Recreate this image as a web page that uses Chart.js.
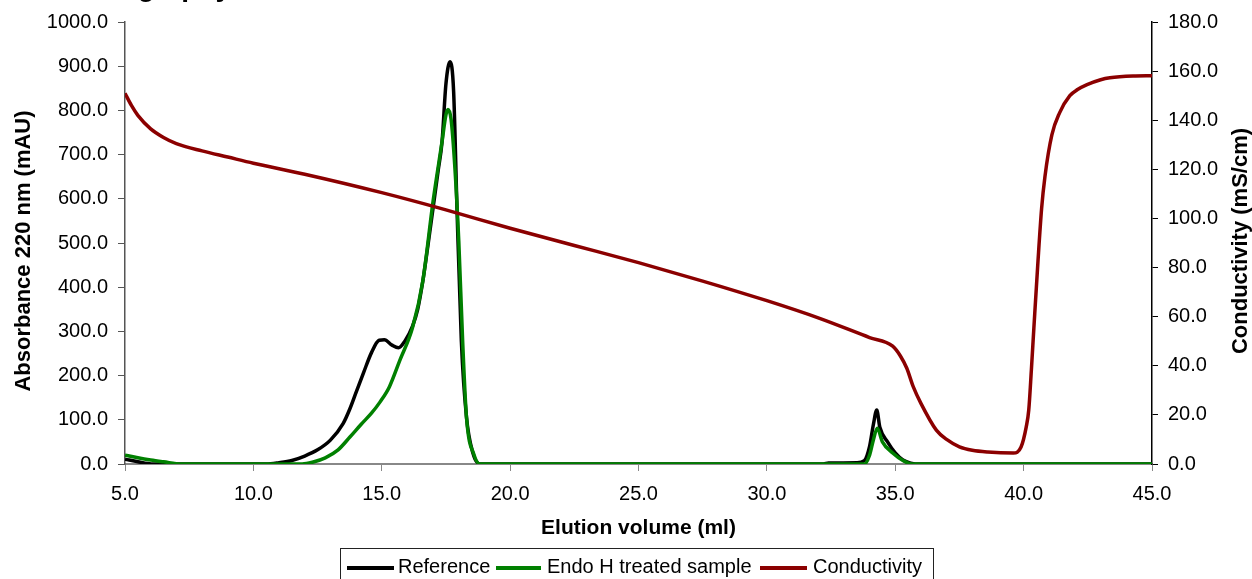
<!DOCTYPE html>
<html>
<head>
<meta charset="utf-8">
<script src="https://cdn.jsdelivr.net/npm/chart.js@4.4.1/dist/chart.umd.min.js"></script>
<style>
    body { margin: 0; background: #fff; font-family: Arial, "Liberation Sans", sans-serif; }
    #wrap { position: relative; width: 1252px; height: 579px; overflow: hidden; }
    #cut-title { position: absolute; left: 0; top: -27px; width: 231px; text-align: right;
        font: bold 28px Arial, "Liberation Sans", sans-serif; line-height: 28px; white-space: nowrap; color: #000; }
    #legend { position: absolute; left: 340px; top: 548px; width: 594px; height: 40px;
        border: 1px solid #222; box-sizing: border-box; font-size: 20px; color: #000; }
    #legend span.item { position: absolute; top: 6px; white-space: nowrap; }
    #legend span.line { position: absolute; top: 17px; height: 4px; }
</style>
</head>
<body>
<div id="wrap">
    <canvas id="chart" width="1252" height="579"></canvas>
    <div id="cut-title">Chromatography</div>
    <div id="legend"></div>
</div>
<script>
// Reference run (black), x = elution volume (ml), y = A220 (mAU)
const refX = [5.0, 5.5, 6.1, 8.0, 10.5, 11.0, 11.5, 12.0, 12.5, 13.0, 13.5, 13.76, 14.0, 14.3, 14.6, 14.9, 15.1, 15.4, 15.65, 15.9, 16.2, 16.4, 16.6, 16.8, 17.0, 17.2, 17.35, 17.5, 17.66, 17.8, 17.93, 18.1, 18.3, 18.55, 18.83, 20.0, 25.0, 30.0, 32.2, 32.4, 33.5, 33.8, 34.0, 34.15, 34.28, 34.4, 34.7, 35.0, 35.3, 35.6, 36.0, 45.0];
const refY = [11, 5, 0, 0, 0, 3, 8, 18, 32, 54, 92, 125, 162, 208, 252, 280, 281, 269, 263, 278, 312, 350, 414, 495, 580, 665, 730, 860, 910, 842, 579, 279, 106, 25, 0, 0, 0, 0, 0, 2, 3, 8, 40, 90, 122, 83, 50, 25, 9, 2, 0, 0];

// Endo H treated sample (green)
const endoX = [5.0, 5.5, 6.0, 6.5, 7.2, 10.0, 11.9, 12.3, 12.8, 13.3, 13.76, 14.2, 14.6, 14.93, 15.3, 15.7, 16.2, 16.6, 17.0, 17.35, 17.5, 17.58, 17.7, 17.85, 18.0, 18.15, 18.3, 18.6, 18.83, 20.0, 30.0, 33.8, 34.0, 34.15, 34.3, 34.5, 34.9, 35.3, 35.65, 45.0];
const endoY = [20, 14, 9, 5, 0, 0, 0, 4, 14, 32, 61, 90, 115, 140, 175, 234, 309, 414, 595, 730, 790, 802, 780, 669, 505, 279, 106, 20, 0, 0, 0, 0, 20, 55, 81, 50, 25, 8, 0, 0];

// Conductivity (mS/cm), right axis
const condX = [5.0, 5.25, 5.5, 6.0, 6.5, 7.0, 8.0, 9.0, 10.0, 12.0, 15.0, 17.5, 20.0, 22.5, 25.0, 27.5, 30.0, 32.0, 34.0, 34.9, 35.2, 35.45, 35.7, 36.0, 36.6, 37.0, 37.5, 38.0, 38.6, 39.6, 39.9, 40.1, 40.2, 40.3, 40.4, 40.56, 40.7, 40.83, 41.1, 41.4, 41.8, 42.1, 42.47, 43.0, 43.36, 44.26, 45.0];
const condY = [151, 146, 142, 136.5, 133, 130.5, 127.5, 125, 122.5, 118, 110.5, 103.5, 96, 89, 82, 74.5, 66.5, 59.5, 51.5, 48, 44, 39, 31.5, 24.7, 13.8, 10, 7, 5.6, 4.9, 4.5, 6.9, 15, 22, 38, 55.5, 82.7, 104, 117, 134, 143, 150, 152.5, 154.5, 156.5, 157.3, 158, 158.1];

const seriesNames = ['Reference', 'Endo H treated sample', 'Conductivity'];
const seriesColors = ['#000000', '#008000', '#8b0000'];
const leftTitle = 'Absorbance 220 nm (mAU)';
const rightTitle = 'Conductivity (mS/cm)';

function toPoints(xs, ys) {
    return xs.map((x, i) => ({ x: x, y: ys[i] }));
}

const FONT = 'Arial, "Liberation Sans", sans-serif';
const one = v => Number(v).toFixed(1);

function lineSet(i, xs, ys, axis, order) {
    return {
        label: seriesNames[i],
        data: toPoints(xs, ys),
        yAxisID: axis,
        borderColor: seriesColors[i],
        backgroundColor: seriesColors[i],
        borderWidth: 3.5,
        pointRadius: 0,
        cubicInterpolationMode: 'monotone',
        order: order
    };
}

// both vertical titles read bottom-to-top, so draw them here
const sideTitles = {
    id: 'sideTitles',
    afterDraw(chart) {
        const ctx = chart.ctx;
        const mid = (chart.chartArea.top + chart.chartArea.bottom) / 2;
        ctx.save();
        ctx.fillStyle = '#000';
        ctx.font = 'bold 22px ' + FONT;
        ctx.textAlign = 'center';
        ctx.textBaseline = 'middle';
        [[24, mid + 8, leftTitle], [1241, mid - 2, rightTitle]].forEach(([x, y, t]) => {
            ctx.save();
            ctx.translate(x, y);
            ctx.rotate(-Math.PI / 2);
            ctx.fillText(t, 0, 0);
            ctx.restore();
        });
        ctx.restore();
    }
};

new Chart(document.getElementById('chart').getContext('2d'), {
    type: 'line',
    data: {
        datasets: [
            lineSet(0, refX, refY, 'yL', 3),
            lineSet(1, endoX, endoY, 'yL', 2),
            lineSet(2, condX, condY, 'yR', 1)
        ]
    },
    options: {
        responsive: false,
        animation: false,
        layout: { padding: { top: 20, left: 0, right: 0, bottom: 0 } },
        plugins: {
            legend: { display: false },
            tooltip: { enabled: false }
        },
        scales: {
            x: {
                type: 'linear', min: 5, max: 45,
                ticks: { stepSize: 5, callback: one, color: '#000', font: { family: FONT, size: 20 }, padding: 11, maxRotation: 0 },
                grid: { drawOnChartArea: false, drawTicks: true, tickLength: 7, color: '#888' },
                border: { display: true, color: '#888', width: 2 },
                title: { display: true, text: 'Elution volume (ml)', color: '#000', font: { family: FONT, size: 21, weight: 'bold' }, padding: { top: 0, bottom: 38 } },
                afterFit: s => { s.height = 115; }
            },
            yL: {
                type: 'linear', position: 'left', min: 0, max: 1000,
                ticks: { stepSize: 100, callback: one, color: '#000', font: { family: FONT, size: 20 }, padding: 10 },
                grid: { drawOnChartArea: false, drawTicks: true, tickLength: 7, color: '#555' },
                border: { display: true, color: '#555', width: 1.5 },
                afterFit: s => { s.width = 125; }
            },
            yR: {
                type: 'linear', position: 'right', min: 0, max: 180,
                ticks: { stepSize: 20, callback: one, color: '#000', font: { family: FONT, size: 20 }, padding: 10 },
                grid: { drawOnChartArea: false, drawTicks: true, tickLength: 6, color: '#000' },
                border: { display: true, color: '#000', width: 1.5 },
                afterFit: s => { s.width = 100; }
            }
        }
    },
    plugins: [sideTitles]
});

// legend box along the bottom edge
const legendPos = [
    { line: 6, lineW: 47, text: 57 },
    { line: 155, lineW: 45, text: 206 },
    { line: 419, lineW: 47, text: 472 }
];
const legend = document.getElementById('legend');
seriesNames.forEach((name, i) => {
    const ln = document.createElement('span');
    ln.className = 'line';
    ln.style.left = legendPos[i].line + 'px';
    ln.style.width = legendPos[i].lineW + 'px';
    ln.style.background = seriesColors[i];
    legend.appendChild(ln);
    const tx = document.createElement('span');
    tx.className = 'item';
    tx.style.left = legendPos[i].text + 'px';
    tx.textContent = name;
    legend.appendChild(tx);
});
</script>
</body>
</html>
